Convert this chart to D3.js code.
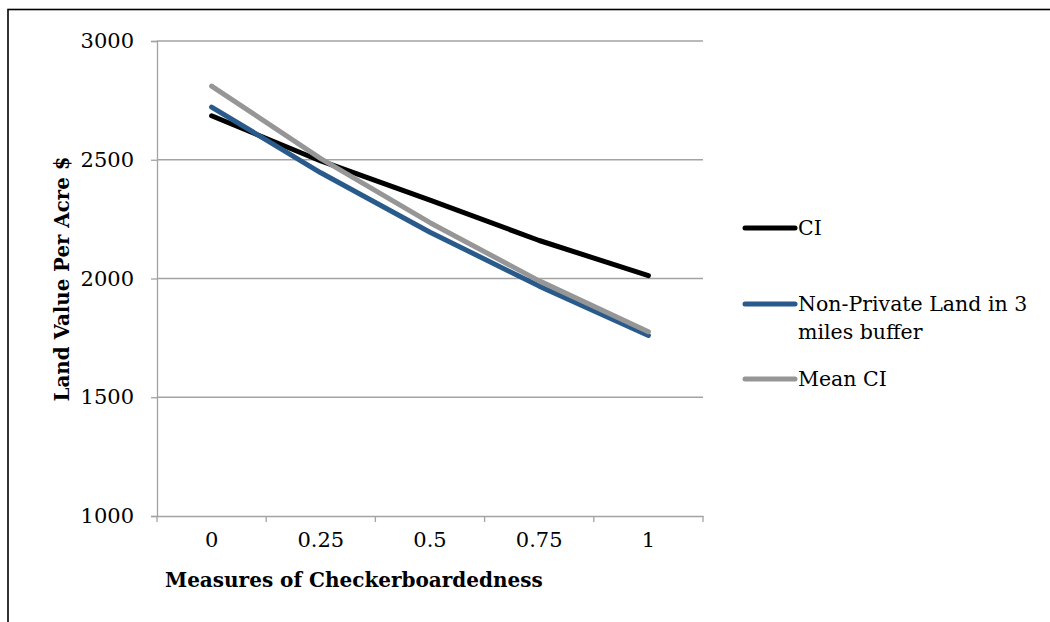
<!DOCTYPE html>
<html>
<head>
<meta charset="utf-8">
<script src="https://cdn.jsdelivr.net/npm/d3@7"></script>
<style>
  html, body { margin: 0; padding: 0; background: #fff; }
  svg { display: block; font-family: "DejaVu Serif", serif; }
</style>
</head>
<body>
<div id="chart"></div>
<script>
// chart data
const categories = ['0', '0.25', '0.5', '0.75', '1'];
const ciValues = [2685, 2495, 2330, 2160, 2012];
const nonPrivateValues = [2722, 2445, 2195, 1968, 1760];
const meanCiValues = [2810, 2505, 2235, 1990, 1776];
const yTicks = [1000, 1500, 2000, 2500, 3000];

const series = [
    { name: ['CI'], values: ciValues, color: '#000000' },
    { name: ['Non-Private Land in 3', 'miles buffer'], values: nonPrivateValues, color: '#285b8c' },
    { name: ['Mean CI'], values: meanCiValues, color: '#969696' }
];

const width = 1050, height = 622;
const plot = { left: 157, right: 703, top: 41, bottom: 516 };

const svg = d3.select('#chart')
    .append('svg')
    .attr('width', width)
    .attr('height', height);

// outer frame (only top and left edges fall inside the picture)
svg.append('rect')
    .attr('x', 8)
    .attr('y', 9.5)
    .attr('width', 1100)
    .attr('height', 700)
    .style('fill', 'none')
    .style('stroke', '#000')
    .style('stroke-width', 1.6);

const x = d3.scaleBand()
    .domain(categories)
    .range([plot.left, plot.right]);

const y = d3.scaleLinear()
    .domain([1000, 3000])
    .range([plot.bottom, plot.top]);

// gridlines
svg.append('g')
    .selectAll('line')
    .data(yTicks.filter(d => d !== 1000))
    .enter()
    .append('line')
    .attr('x1', plot.left)
    .attr('x2', plot.right)
    .attr('y1', d => y(d))
    .attr('y2', d => y(d))
    .style('stroke', '#a3a3a3')
    .style('stroke-width', 1.3);

// y axis
const yAxis = svg.append('g')
    .attr('transform', `translate(${plot.left},0)`)
    .call(d3.axisLeft(y).tickValues(yTicks).tickSize(6).tickPadding(17).tickFormat(d3.format('d')));
yAxis.select('.domain').style('stroke', '#a3a3a3').style('stroke-width', 1.3);
yAxis.selectAll('.tick line').style('stroke', '#a3a3a3').style('stroke-width', 1.3);
yAxis.selectAll('text').style('font-size', '21px').style('fill', '#000')
    .style('font-family', '"DejaVu Serif", serif');

// x axis: ticks sit between categories
const xAxis = svg.append('g')
    .attr('transform', `translate(0,${plot.bottom})`)
    .call(d3.axisBottom(x).tickSize(0).tickPadding(16));
xAxis.select('.domain').style('stroke', '#a3a3a3').style('stroke-width', 1.3);
xAxis.selectAll('text').style('font-size', '21px').style('fill', '#000')
    .style('font-family', '"DejaVu Serif", serif');

const boundaries = categories.map(c => x(c)).concat([x(categories[categories.length - 1]) + x.bandwidth()]);
svg.append('g')
    .selectAll('line')
    .data(boundaries)
    .enter()
    .append('line')
    .attr('x1', d => d)
    .attr('x2', d => d)
    .attr('y1', plot.bottom)
    .attr('y2', plot.bottom + 6)
    .style('stroke', '#a3a3a3')
    .style('stroke-width', 1.3);

// lines
const line = d3.line()
    .x((d, i) => x(categories[i]) + x.bandwidth() / 2)
    .y(d => y(d));

svg.append('g')
    .selectAll('path')
    .data(series)
    .enter()
    .append('path')
    .attr('d', d => line(d.values))
    .style('fill', 'none')
    .style('stroke', d => d.color)
    .style('stroke-width', 5)
    .style('stroke-linecap', 'round')
    .style('stroke-linejoin', 'round');

// axis titles
svg.append('text')
    .attr('x', 165)
    .attr('y', 587)
    .style('font-size', '20px')
    .style('font-weight', 'bold')
    .text('Measures of Checkerboardedness');

svg.append('text')
    .attr('transform', 'translate(69,279) rotate(-90)')
    .attr('text-anchor', 'middle')
    .style('font-size', '19.8px')
    .style('font-weight', 'bold')
    .text('Land Value Per Acre $');

// legend
const legendY = [228, 304, 379];
const legend = svg.append('g')
    .selectAll('g')
    .data(series)
    .enter()
    .append('g')
    .attr('transform', (d, i) => `translate(745,${legendY[i]})`);

legend.append('line')
    .attr('x1', 0)
    .attr('x2', 50)
    .style('stroke', d => d.color)
    .style('stroke-width', 5)
    .style('stroke-linecap', 'round');

legend.append('text')
    .attr('x', 53)
    .attr('y', 7)
    .style('font-size', '20.5px')
    .selectAll('tspan')
    .data(d => d.name)
    .enter()
    .append('tspan')
    .attr('x', 53)
    .attr('dy', (d, i) => i === 0 ? 0 : 28)
    .text(d => d);
</script>
</body>
</html>
